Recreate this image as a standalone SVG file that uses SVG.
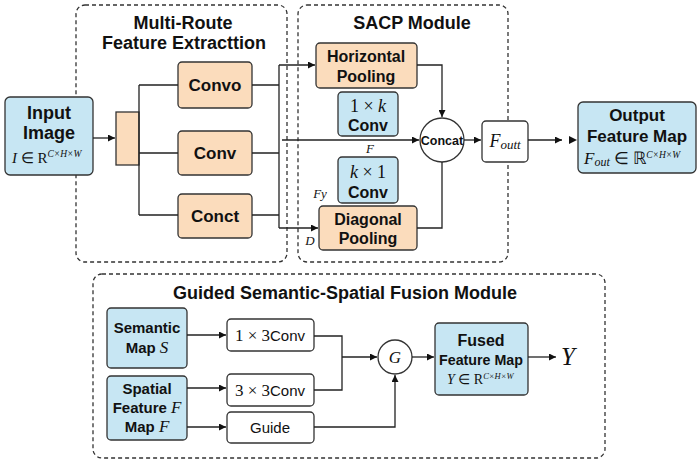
<svg xmlns="http://www.w3.org/2000/svg" width="700" height="463" viewBox="0 0 700 463">
<defs>
<style>
.dash{fill:none;stroke:#333;stroke-width:1.3;stroke-dasharray:4,3}
.blue{fill:#c7e6f3;stroke:#333;stroke-width:1.3}
.org{fill:#fbdcbc;stroke:#333;stroke-width:1.3}
.wht{fill:#fff;stroke:#333;stroke-width:1.3}
.ln{fill:none;stroke:#222;stroke-width:1.3}
.b{font-family:"Liberation Sans",Arial,sans-serif;font-weight:bold;fill:#111;text-anchor:middle}
.r{font-family:"Liberation Sans",Arial,sans-serif;fill:#111;text-anchor:middle}
.m{font-family:"Liberation Serif","Times New Roman",serif;font-style:italic;fill:#111}
.s{font-family:"Liberation Serif","Times New Roman",serif;fill:#111}
</style>
<marker id="ah" viewBox="0 0 10 10" refX="10" refY="5" markerWidth="7" markerHeight="7" orient="auto" markerUnits="userSpaceOnUse">
<path d="M0,0 L10,5 L0,10 z" fill="#111"/>
</marker>
</defs>
<rect width="700" height="463" fill="#fff"/>

<g id="modules">
<rect class="dash" x="76" y="5" width="211" height="257" rx="9"/>
<rect class="dash" x="298" y="5" width="210" height="257" rx="9"/>
<rect class="dash" x="93" y="274" width="512" height="184" rx="9"/>
<text class="b" x="183" y="29" font-size="18">Multi-Route</text>
<text class="b" x="184" y="49" font-size="18">Feature Extracttion</text>
<text class="b" x="412" y="29" font-size="18">SACP Module</text>
<text class="b" x="345" y="299" font-size="18">Guided Semantic-Spatial Fusion Module</text>
</g>

<g id="input">
<rect class="blue" x="5" y="97" width="88" height="78" rx="5"/>
<text class="b" x="49" y="119" font-size="18">Input</text>
<text class="b" x="49" y="139" font-size="18">Image</text>
<text class="m" x="12" y="163" font-size="15">I<tspan font-style="normal"> ∈ R</tspan><tspan font-size="9.5" dy="-6">C×H×W</tspan></text>
</g>

<g id="splitter"><rect class="org" x="116" y="112" width="23" height="53"/></g>

<g id="convo"><rect class="org" x="178" y="62" width="74" height="46" rx="4"/><text class="b" x="215" y="91" font-size="17">Convo</text></g>
<g id="conv"><rect class="org" x="178" y="131" width="74" height="44" rx="4"/><text class="b" x="215" y="159" font-size="17">Conv</text></g>
<g id="conct"><rect class="org" x="178" y="194" width="74" height="44" rx="4"/><text class="b" x="215" y="222" font-size="17">Conct</text></g>

<g id="hpool"><rect class="org" x="316" y="43" width="101" height="45" rx="4"/><text class="b" x="366" y="62" font-size="16">Horizontal</text><text class="b" x="366" y="82" font-size="16">Pooling</text></g>
<g id="conv1k"><rect class="blue" x="338" y="92" width="60" height="44" rx="4"/><text class="s" x="368" y="112" font-size="18" text-anchor="middle">1 × <tspan font-style="italic">k</tspan></text><text class="b" x="368" y="131" font-size="16">Conv</text></g>
<g id="convk1"><rect class="blue" x="338" y="157" width="60" height="46" rx="4"/><text class="s" x="368" y="178" font-size="18" text-anchor="middle"><tspan font-style="italic">k</tspan> × 1</text><text class="b" x="368" y="198" font-size="16">Conv</text></g>
<g id="dpool"><rect class="org" x="319" y="206" width="98" height="44" rx="4"/><text class="b" x="368" y="225" font-size="16">Diagonal</text><text class="b" x="368" y="244" font-size="16">Pooling</text></g>

<g id="concat"><circle class="wht" cx="442" cy="140" r="22"/><text class="b" x="442" y="145" font-size="12.5">Concat</text></g>
<g id="fout"><rect class="wht" x="482" y="121" width="46" height="41" rx="4"/><text class="m" x="505" y="147" font-size="18" text-anchor="middle">F<tspan font-size="13" dy="2">outt</tspan></text></g>

<g id="output"><rect class="blue" x="578" y="102" width="118" height="71" rx="5"/><text class="b" x="637" y="121" font-size="17">Output</text><text class="b" x="637" y="142" font-size="17">Feature Map</text><text class="m" x="584" y="164" font-size="17">F<tspan font-size="12" dy="2">out</tspan><tspan font-style="normal" dy="-2"> ∈ ℝ</tspan><tspan font-size="9.5" dy="-6">C×H×W</tspan></text></g>

<g id="labels">
<text class="m" x="370" y="153" font-size="13" text-anchor="middle">F</text>
<text class="m" x="320" y="198" font-size="13" text-anchor="middle">Fy</text>
<text class="m" x="310" y="245" font-size="13" text-anchor="middle">D</text>
</g>

<g id="semantic"><rect class="blue" x="107" y="308" width="80" height="60" rx="4"/><text class="b" x="147" y="333" font-size="15">Semantic</text><text class="b" x="147" y="353" font-size="15">Map <tspan class="m" font-weight="normal" font-size="17">S</tspan></text></g>
<g id="spatial"><rect class="blue" x="107" y="376" width="80" height="64" rx="4"/><text class="b" x="147" y="394" font-size="15">Spatial</text><text class="b" x="147" y="413" font-size="15">Feature <tspan class="m" font-weight="normal" font-size="17">F</tspan></text><text class="b" x="147" y="432" font-size="15">Map <tspan class="m" font-weight="normal" font-size="17">F</tspan></text></g>
<g id="conv13"><rect class="wht" x="227" y="319" width="87" height="32" rx="4"/><text class="s" x="270" y="341" font-size="17" text-anchor="middle">1 × 3<tspan font-family="Liberation Sans,Arial,sans-serif" font-size="15">Conv</tspan></text></g>
<g id="conv33"><rect class="wht" x="227" y="374" width="87" height="32" rx="4"/><text class="s" x="270" y="396" font-size="17" text-anchor="middle">3 × 3<tspan font-family="Liberation Sans,Arial,sans-serif" font-size="15">Conv</tspan></text></g>
<g id="guide"><rect class="wht" x="227" y="412" width="87" height="31" rx="4"/><text class="r" x="270" y="433" font-size="15">Guide</text></g>
<g id="gnode"><circle class="wht" cx="395" cy="357" r="17"/><text class="m" x="395" y="363" font-size="17" text-anchor="middle">G</text></g>
<g id="fused"><rect class="blue" x="435" y="323" width="93" height="72" rx="4"/><text class="b" x="481" y="346" font-size="16">Fused</text><text class="b" x="481" y="365" font-size="15" textLength="84" lengthAdjust="spacingAndGlyphs">Feature Map</text><text class="m" x="447" y="384" font-size="14">Y<tspan font-style="normal"> ∈ R</tspan><tspan font-size="8.5" dy="-5">C×H×W</tspan></text></g>
<g id="yout"><text class="m" x="568" y="365" font-size="25" text-anchor="middle">Y</text></g>

<g id="connectors">
<path class="ln" d="M93,138 H115" marker-end="url(#ah)"/>
<path class="ln" d="M139,85 V215 M139,85 H178 M139,153 H178 M139,215 H178"/>
<path class="ln" d="M252,85 H279 M252,153 H279 M252,215 H279 M279,65 V228"/>
<path class="ln" d="M279,65 H315" marker-end="url(#ah)"/>
<path class="ln" d="M279,228 H318" marker-end="url(#ah)"/>
<path class="ln" d="M282,140 H419" marker-end="url(#ah)"/>
<path class="ln" d="M417,65 H442 V117" marker-end="url(#ah)"/>
<path class="ln" d="M417,228 H442 V162"/>
<path class="ln" d="M464,140 H481" marker-end="url(#ah)"/>
<path class="ln" d="M528,140 H562" marker-end="url(#ah)"/>
<path d="M569,136 L577,140 L569,144 z" fill="#111"/>
<path class="ln" d="M187,335 H226" marker-end="url(#ah)"/>
<path class="ln" d="M187,388 H226" marker-end="url(#ah)"/>
<path class="ln" d="M187,427 H226" marker-end="url(#ah)"/>
<path class="ln" d="M314,336 H342 V390 H314"/>
<path class="ln" d="M342,357 H377" marker-end="url(#ah)"/>
<path class="ln" d="M314,427 H395 V375" marker-end="url(#ah)"/>
<path class="ln" d="M412,357 H434" marker-end="url(#ah)"/>
<path class="ln" d="M528,357 H556" marker-end="url(#ah)"/>
</g>
</svg>
